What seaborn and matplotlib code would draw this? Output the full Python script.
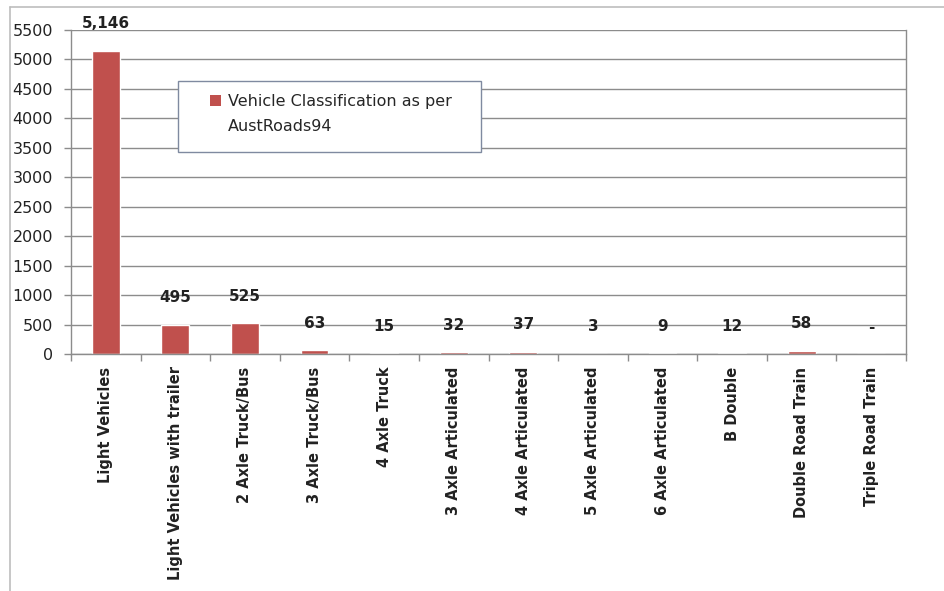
import matplotlib
matplotlib.use("Agg")
import matplotlib.pyplot as plt
import seaborn as sns
import numpy as np
from matplotlib.patches import Rectangle, Patch
from matplotlib.lines import Line2D

categories = ["Light Vehicles", "Light Vehicles with trailer", "2 Axle Truck/Bus",
              "3 Axle Truck/Bus", "4 Axle Truck", "3 Axle Articulated",
              "4 Axle Articulated", "5 Axle Articulated", "6 Axle Articulated",
              "B Double", "Double Road Train", "Triple Road Train"]
values = [5146, 495, 525, 63, 15, 32, 37, 3, 9, 12, 58, 0]
value_labels = ["5,146", "495", "525", "63", "15", "32", "37", "3", "9", "12", "58", "-"]
yticks = list(range(0, 5501, 500))
legend_lines = ["Vehicle Classification as per", "AustRoads94"]

sns.set_theme(style="white")
plt.rcParams['font.family'] = ['DejaVu Sans']

BAR = "#C0504D"
GRID = "#8c8c8c"

fig = plt.figure(figsize=(9.44, 5.91), dpi=100)
ax = fig.add_axes([71/944, 1-354/591, (906-71)/944, (354-30)/591])

sns.barplot(x=categories, y=values, color=BAR, width=0.4, ax=ax, saturation=1)

ax.set_xlim(-0.5, len(categories) - 0.5)
ax.set_ylim(0, 5500)
ax.set_yticks(yticks)
ax.set_yticklabels([str(v) for v in yticks], fontsize=11.5, color="#222222")
ax.yaxis.grid(True, color=GRID, linewidth=1.0)
ax.set_axisbelow(True)
ax.tick_params(axis="y", which="major", length=5, width=1, color=GRID, pad=8, left=True)

ax.set_xticks(range(len(categories)))
ax.set_xticklabels(categories, rotation=90, fontsize=10.5, fontweight="bold",
                   color="#222222", va="top")
ax.tick_params(axis="x", which="major", length=0, pad=9)
ax.set_xticks(np.arange(-0.5, len(categories), 1.0), minor=True)
ax.tick_params(axis="x", which="minor", length=5, width=1, color=GRID, bottom=True)

for side in ["left", "bottom", "right"]:
    ax.spines[side].set_visible(True)
    ax.spines[side].set_color(GRID)
    ax.spines[side].set_linewidth(1.0)
ax.spines["top"].set_visible(False)

ax.bar_label(ax.containers[0], labels=value_labels, padding=14,
             fontsize=11, fontweight="bold", color="#222222")

# legend box
ax.add_patch(Rectangle(((178-71)/835, (354-152)/324), (481-178)/835, (152-81)/324,
                       transform=ax.transAxes, facecolor="white", edgecolor="#7f8aa0",
                       linewidth=1.0, zorder=5))
handles = [Patch(facecolor=BAR, edgecolor="none"),
           Patch(facecolor="none", edgecolor="none")]
leg = ax.legend(handles, legend_lines, loc="upper left",
                bbox_to_anchor=((210-71)/835, (354-94)/324),
                frameon=False, borderpad=0, borderaxespad=0,
                handlelength=0.7, handleheight=0.7, handletextpad=0.4,
                labelspacing=0.65, fontsize=11.5)
leg.set_zorder(6)

# outer frame of chart area
fig.add_artist(Line2D([10/944, 1], [1-7/591, 1-7/591], transform=fig.transFigure,
                      color="#bdbdbd", linewidth=1.2))
fig.add_artist(Line2D([10/944, 10/944], [0, 1-7/591], transform=fig.transFigure,
                      color="#bdbdbd", linewidth=1.2))

fig.savefig("out.png", dpi=100, facecolor="white")
